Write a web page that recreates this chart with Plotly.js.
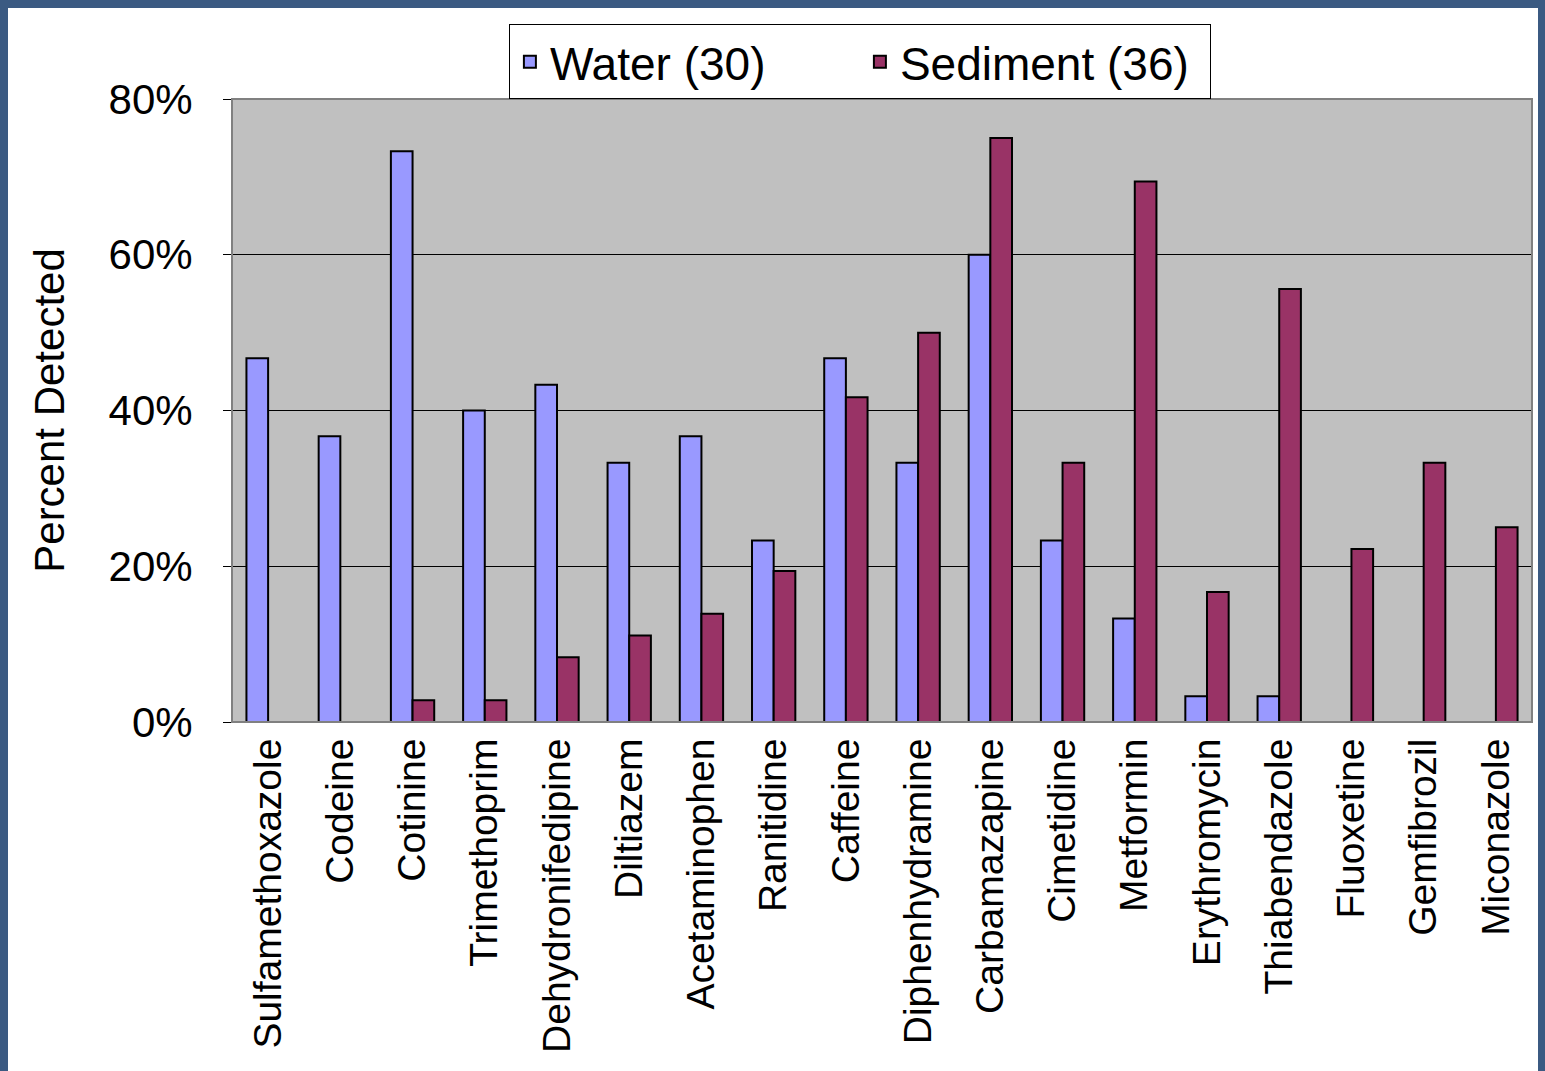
<!DOCTYPE html>
<html><head><script src="https://cdn.plot.ly/plotly-3.0.1.min.js"></script>
<style>body{margin:0;background:#3b5a82;width:1545px;height:1071px;overflow:hidden}
#c{position:absolute;left:8px;top:8px;width:1530px;height:1063px;background:#fff}</style></head>
<body><div id="c"></div><script>
const categories=["Sulfamethoxazole","Codeine","Cotinine","Trimethoprim","Dehydronifedipine","Diltiazem","Acetaminophen","Ranitidine","Caffeine","Diphenhydramine","Carbamazapine","Cimetidine","Metformin","Erythromycin","Thiabendazole","Fluoxetine","Gemfibrozil","Miconazole"];
const water=[0.467,0.367,0.733,0.40,0.433,0.333,0.367,0.233,0.467,0.333,0.60,0.233,0.133,0.033,0.033,0,0,0];
const sediment=[0,0,0.028,0.028,0.083,0.111,0.139,0.194,0.417,0.50,0.75,0.333,0.694,0.167,0.556,0.222,0.333,0.25];
const yTicks=[0,0.2,0.4,0.6,0.8];
const f="Liberation Sans, Arial, sans-serif";
Plotly.newPlot('c',[
{type:'bar',name:'Water (30)',x:categories,y:water,marker:{color:'#9999ff',line:{color:'#000',width:2}}},
{type:'bar',name:'Sediment (36)',x:categories,y:sediment,marker:{color:'#993366',line:{color:'#000',width:2}}}
],{width:1530,height:1063,paper_bgcolor:'#fff',plot_bgcolor:'#c0c0c0',
margin:{l:224,r:6,t:91,b:349},barmode:'group',bargap:0.4,bargroupgap:0,
font:{family:f,color:'#000'},
xaxis:{tickangle:-90,tickfont:{size:39},showline:true,linecolor:'#000',linewidth:1,ticks:'outside',ticklen:0,showgrid:false},
yaxis:{range:[0,0.8],tickvals:yTicks,tickformat:'.0%',tickfont:{size:42},showgrid:true,gridcolor:'#000',gridwidth:1,ticks:'outside',ticklen:8,tickcolor:'#000',showline:true,linecolor:'#000',zeroline:false,ticklabelstandoff:22,
title:{text:'Percent Detected',font:{size:42},standoff:30}},
shapes:[{type:'rect',xref:'paper',yref:'paper',x0:0,x1:1,y0:0,y1:1,line:{color:'#808080',width:2}}],
legend:{orientation:'h',x:0.213,y:1.12,xanchor:'left',yanchor:'top',bgcolor:'#fff',bordercolor:'#000',borderwidth:1,font:{size:46},itemwidth:30,entrywidth:305}
});
</script></body></html>
